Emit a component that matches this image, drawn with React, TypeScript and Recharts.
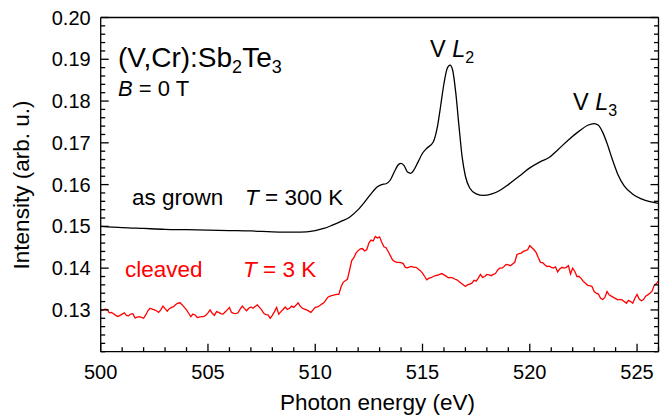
import React from 'react';
import { LineChart, Line, XAxis, YAxis } from 'recharts';

const FONT = '"Liberation Sans", Arial, Helvetica, sans-serif';

// axis ticks
const xMajorTicks = [500, 505, 510, 515, 520, 525];
const xMinorTicks = Array.from({ length: 27 }, (_, i) => 500 + i);
const yMajorTicks = [0.13, 0.14, 0.15, 0.16, 0.17, 0.18, 0.19, 0.2];
const yMinorTicks = Array.from({ length: 41 }, (_, i) => +(0.12 + i * 0.002).toFixed(3));

// as grown, T = 300 K (black)
const grownEnergy = [
  500.0, 501.0, 502.0, 503.0, 504.0, 505.0, 506.0, 507.0, 508.0, 509.0,
  509.6, 510.0, 510.4, 510.8, 511.2, 511.6, 512.0, 512.3, 512.6, 512.9,
  513.1, 513.3, 513.5, 513.7, 513.9, 514.0, 514.15, 514.3, 514.45, 514.6,
  514.8, 515.0, 515.2, 515.5, 515.7, 515.85, 516.0, 516.15, 516.28, 516.4,
  516.55, 516.7, 516.85, 517.0, 517.2, 517.5, 517.85, 518.2, 518.6, 519.0,
  519.5, 520.0, 520.5, 520.9, 521.3, 521.8, 522.3, 522.7, 523.0, 523.2,
  523.4, 523.6, 523.85, 524.1, 524.4, 524.8, 525.2, 525.6, 526.0,
];
const grownIntensity = [
  0.1500, 0.1497, 0.1495, 0.1493, 0.1492, 0.1491, 0.1490, 0.1489, 0.1487, 0.1486,
  0.1487, 0.1490, 0.1495, 0.1503, 0.1512, 0.1522, 0.1540, 0.1558, 0.1578, 0.1595,
  0.1600, 0.1602, 0.1611, 0.1632, 0.1649, 0.1651, 0.1645, 0.1630, 0.1627, 0.1635,
  0.1655, 0.1675, 0.1687, 0.1702, 0.1740, 0.1790, 0.1842, 0.1878, 0.1886, 0.1875,
  0.1820, 0.1740, 0.1665, 0.1620, 0.1592, 0.1578, 0.1574, 0.1577, 0.1586, 0.1600,
  0.1620, 0.1640, 0.1655, 0.1665, 0.1683, 0.1707, 0.1728, 0.1742, 0.1746, 0.1742,
  0.1725, 0.1699, 0.1660, 0.1625, 0.1597, 0.1577, 0.1566, 0.1559, 0.1555,
];

// cleaved, T = 3 K (red), 0.1 eV grid from 500 to 526
const cleavedEnergy = Array.from({ length: 261 }, (_, i) => +(500 + i * 0.1).toFixed(1));
const cleavedIntensity = [
  0.1298, 0.1300, 0.1302, 0.1301, 0.1293, 0.1294, 0.1291, 0.1287, 0.1284, 0.1287, // 500
  0.1290, 0.1293, 0.1287, 0.1286, 0.1290, 0.1291, 0.1281, 0.1283, 0.1284, 0.1282, // 501
  0.1280, 0.1288, 0.1298, 0.1304, 0.1302, 0.1300, 0.1298, 0.1294, 0.1300, 0.1309, // 502
  0.1303, 0.1297, 0.1303, 0.1306, 0.1308, 0.1313, 0.1316, 0.1317, 0.1312, 0.1306, // 503
  0.1300, 0.1292, 0.1284, 0.1290, 0.1288, 0.1282, 0.1283, 0.1284, 0.1284, 0.1287, // 504
  0.1293, 0.1300, 0.1292, 0.1287, 0.1296, 0.1294, 0.1291, 0.1290, 0.1295, 0.1300, // 505
  0.1306, 0.1294, 0.1292, 0.1291, 0.1293, 0.1302, 0.1309, 0.1303, 0.1298, 0.1304, // 506
  0.1307, 0.1304, 0.1308, 0.1312, 0.1306, 0.1300, 0.1292, 0.1289, 0.1288, 0.1280, // 507
  0.1287, 0.1296, 0.1306, 0.1290, 0.1296, 0.1301, 0.1307, 0.1301, 0.1304, 0.1309, // 508
  0.1306, 0.1311, 0.1317, 0.1309, 0.1304, 0.1302, 0.1300, 0.1297, 0.1294, 0.1300, // 509
  0.1306, 0.1307, 0.1310, 0.1314, 0.1317, 0.1324, 0.1331, 0.1333, 0.1335, 0.1336, // 510
  0.1337, 0.1337, 0.1355, 0.1366, 0.1370, 0.1373, 0.1395, 0.1418, 0.1425, 0.1436, // 511
  0.1442, 0.1446, 0.1447, 0.1441, 0.1444, 0.1460, 0.1467, 0.1465, 0.1476, 0.1472, // 512
  0.1475, 0.1462, 0.1451, 0.1449, 0.1440, 0.1430, 0.1420, 0.1416, 0.1414, 0.1414, // 513
  0.1413, 0.1411, 0.1402, 0.1401, 0.1403, 0.1404, 0.1402, 0.1402, 0.1398, 0.1394, // 514
  0.1388, 0.1380, 0.1372, 0.1376, 0.1377, 0.1380, 0.1382, 0.1383, 0.1385, 0.1387, // 515
  0.1384, 0.1381, 0.1377, 0.1378, 0.1377, 0.1374, 0.1372, 0.1368, 0.1364, 0.1360, // 516
  0.1356, 0.1360, 0.1362, 0.1364, 0.1371, 0.1369, 0.1376, 0.1385, 0.1378, 0.1380, // 517
  0.1385, 0.1384, 0.1382, 0.1385, 0.1387, 0.1395, 0.1400, 0.1400, 0.1404, 0.1409, // 518
  0.1408, 0.1406, 0.1410, 0.1414, 0.1432, 0.1435, 0.1436, 0.1440, 0.1442, 0.1444, // 519
  0.1454, 0.1449, 0.1444, 0.1437, 0.1425, 0.1414, 0.1413, 0.1408, 0.1404, 0.1405, // 520
  0.1402, 0.1400, 0.1403, 0.1391, 0.1398, 0.1402, 0.1400, 0.1402, 0.1406, 0.1386, // 521
  0.1400, 0.1392, 0.1380, 0.1380, 0.1375, 0.1368, 0.1364, 0.1359, 0.1358, 0.1356, // 522
  0.1344, 0.1340, 0.1338, 0.1328, 0.1325, 0.1330, 0.1344, 0.1336, 0.1333, 0.1330, // 523
  0.1327, 0.1324, 0.1325, 0.1324, 0.1320, 0.1316, 0.1323, 0.1320, 0.1316, 0.1328, // 524
  0.1337, 0.1326, 0.1322, 0.1325, 0.1333, 0.1336, 0.1340, 0.1345, 0.1359, 0.1363, // 525
  0.1369,
];

const asGrown = grownEnergy.map((e, i) => ({ e, v: grownIntensity[i] }));
const cleaved = cleavedEnergy.map((e, i) => ({ e, v: cleavedIntensity[i] }));

const AXIS = { stroke: '#000', strokeWidth: 1.3 };
const MAJOR = 8;
const MINOR = 4.5;

const isMajorX = (v: number) => xMajorTicks.includes(v);
const isMajorY = (v: number) => yMajorTicks.some((t) => Math.abs(t - v) < 1e-6);

// inward ticks, drawn from the axis line
const BottomTick = (p: any) => {
  const v = p.payload.value;
  const major = isMajorX(v);
  return (
    <g>
      <line x1={p.x} x2={p.x} y1={p.y} y2={p.y - (major ? MAJOR : MINOR)} {...AXIS} />
      {major && (
        <text x={p.x} y={p.y + 27} textAnchor="middle" fontSize={20} fontFamily={FONT} fill="#000">
          {v}
        </text>
      )}
    </g>
  );
};
const TopTick = (p: any) => {
  const major = isMajorX(p.payload.value);
  return <line x1={p.x} x2={p.x} y1={p.y} y2={p.y + (major ? MAJOR : MINOR)} {...AXIS} />;
};
const LeftTick = (p: any) => {
  const v = p.payload.value;
  const major = isMajorY(v);
  return (
    <g>
      <line x1={p.x} x2={p.x + (major ? MAJOR : MINOR)} y1={p.y} y2={p.y} {...AXIS} />
      {major && (
        <text x={p.x - 10} y={p.y + 7} textAnchor="end" fontSize={20} fontFamily={FONT} fill="#000">
          {v.toFixed(2)}
        </text>
      )}
    </g>
  );
};
const RightTick = (p: any) => {
  const major = isMajorY(p.payload.value);
  return <line x1={p.x} x2={p.x - (major ? MAJOR : MINOR)} y1={p.y} y2={p.y} {...AXIS} />;
};

export default function App() {
  return (
    <div style={{ position: 'absolute', left: 0, top: 0, width: 670, height: 415, background: '#fff' }}>
      <LineChart
        width={670}
        height={415}
        margin={{ top: 16.5, right: 10.5, bottom: 62.3, left: 99.7 }}
      >
        <XAxis
          xAxisId="b"
          dataKey="e"
          type="number"
          domain={[500, 526]}
          allowDataOverflow
          ticks={xMinorTicks}
          interval={0}
          height={1}
          tickSize={0}
          tickMargin={0}
          axisLine={AXIS}
          tickLine={false}
          tick={<BottomTick />}
        />
        <XAxis
          xAxisId="t"
          orientation="top"
          type="number"
          domain={[500, 526]}
          allowDataOverflow
          ticks={xMinorTicks}
          interval={0}
          height={1}
          tickSize={0}
          tickMargin={0}
          axisLine={AXIS}
          tickLine={false}
          tick={<TopTick />}
        />
        <YAxis
          yAxisId="l"
          type="number"
          domain={[0.12, 0.2]}
          allowDataOverflow
          ticks={yMinorTicks}
          interval={0}
          width={1}
          tickSize={0}
          tickMargin={0}
          axisLine={AXIS}
          tickLine={false}
          tick={<LeftTick />}
        />
        <YAxis
          yAxisId="r"
          orientation="right"
          type="number"
          domain={[0.12, 0.2]}
          allowDataOverflow
          ticks={yMinorTicks}
          interval={0}
          width={1}
          tickSize={0}
          tickMargin={0}
          axisLine={AXIS}
          tickLine={false}
          tick={<RightTick />}
        />

        <Line
          xAxisId="b"
          yAxisId="l"
          data={cleaved}
          dataKey="v"
          type="linear"
          stroke="#ff0000"
          strokeWidth={1.3}
          dot={false}
          isAnimationActive={false}
        />
        <Line
          xAxisId="b"
          yAxisId="l"
          data={asGrown}
          dataKey="v"
          type="monotone"
          stroke="#000"
          strokeWidth={1.3}
          dot={false}
          isAnimationActive={false}
        />
      </LineChart>

      <svg
        width={670}
        height={415}
        style={{ position: 'absolute', left: 0, top: 0, pointerEvents: 'none' }}
        fontFamily={FONT}
      >
        <text x={118} y={67} fontSize={28} fill="#000">
          (V,Cr):Sb<tspan fontSize={18} dy={6}>2</tspan>
          <tspan dy={-6}>Te</tspan>
          <tspan fontSize={18} dy={6}>3</tspan>
        </text>
        <text x={118} y={96} fontSize={22} fill="#000">
          <tspan fontStyle="italic">B</tspan> = 0 T
        </text>

        <text x={430} y={57} fontSize={23.5} fill="#000">
          V <tspan fontStyle="italic">L</tspan>
          <tspan fontSize={16} dy={6}>2</tspan>
        </text>
        <text x={573} y={110} fontSize={23.5} fill="#000">
          V <tspan fontStyle="italic">L</tspan>
          <tspan fontSize={16} dy={6}>3</tspan>
        </text>

        <text x={132} y={205} fontSize={22.5} fill="#000">as grown</text>
        <text x={245} y={205} fontSize={22.5} fill="#000">
          <tspan fontStyle="italic">T</tspan> = 300 K
        </text>
        <text x={125} y={277} fontSize={22.5} fill="#ff0000">cleaved</text>
        <text x={243} y={277} fontSize={22.5} fill="#ff0000">
          <tspan fontStyle="italic">T</tspan> = 3 K
        </text>

        <text x={377.5} y={410} fontSize={22.5} fill="#000" textAnchor="middle">
          Photon energy (eV)
        </text>
        <text transform="rotate(-90)" x={-185} y={29} fontSize={22.5} fill="#000" textAnchor="middle">
          Intensity (arb. u.)
        </text>
      </svg>
    </div>
  );
}
